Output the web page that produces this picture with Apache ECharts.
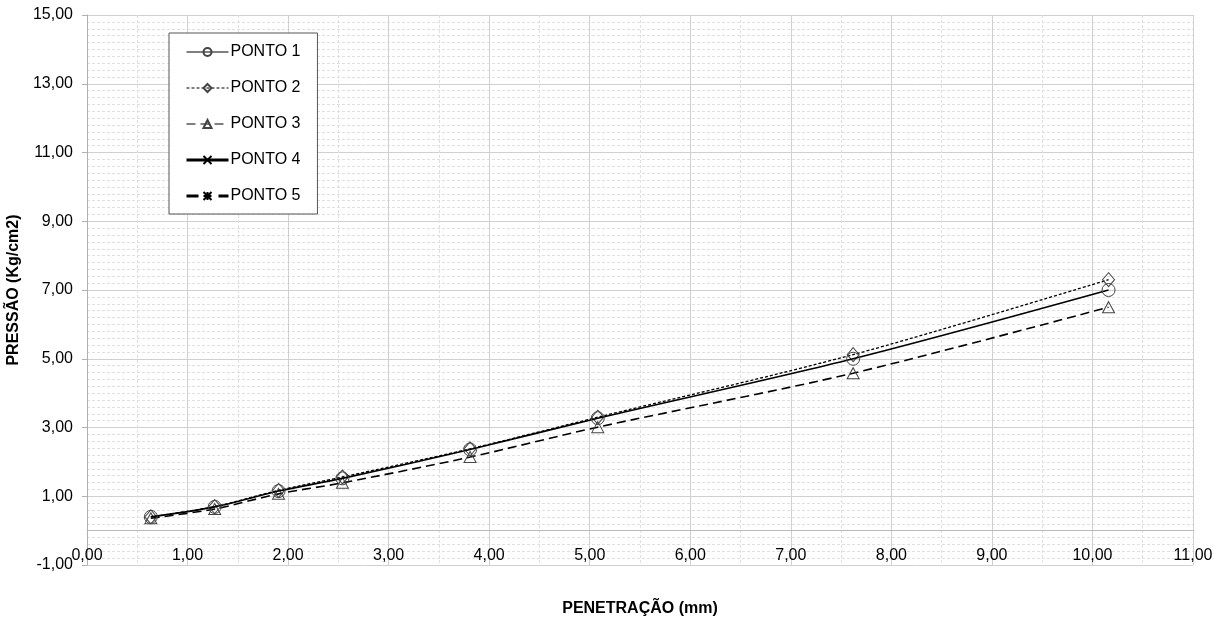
<!DOCTYPE html>
<html>
<head>
<meta charset="utf-8">
<script src="https://cdn.jsdelivr.net/npm/echarts@6/dist/echarts.min.js"></script>
<style>
  html, body { margin: 0; padding: 0; background: #fff; }
  #chart { width: 1214px; height: 620px; }
</style>
</head>
<body>
<div id="chart"></div>
<script>
// Penetration (mm)
const penetracao = [0.635, 1.27, 1.905, 2.54, 3.81, 5.08, 7.62, 10.16];
// Pressure (Kg/cm2)
const ponto1 = [0.40, 0.69, 1.15, 1.52, 2.36, 3.27, 5.00, 7.00];
const ponto2 = [0.40, 0.70, 1.17, 1.56, 2.38, 3.30, 5.12, 7.30];
const ponto3 = [0.36, 0.63, 1.07, 1.39, 2.14, 3.01, 4.58, 6.50];
const ponto4 = [];
const ponto5 = [];
const seriesNames = ['PONTO 1', 'PONTO 2', 'PONTO 3', 'PONTO 4', 'PONTO 5'];
const xTitle = 'PENETRAÇÃO (mm)';
const yTitle = 'PRESSÃO (Kg/cm2)';

function pairs(ys) { return ys.map((v, i) => [penetracao[i], v]); }
const fmt = v => v.toFixed(2).replace('.', ',');
const FONT = '"Liberation Sans", Arial, sans-serif';

const markerStyle = { color: 'rgba(255,255,255,0)', borderColor: '#444', borderWidth: 1 };
const xPath = 'path://M0,0L10,10M10,0L0,10';
const starPath = 'path://M0,0L10,10M10,0L0,10M5,0L5,10M0,5L10,5';

const chart = echarts.init(document.getElementById('chart'), null, { renderer: 'canvas' });
chart.setOption({
  animation: false,
  backgroundColor: '#fff',
  textStyle: { fontFamily: FONT },
  grid: { left: 87, right: 21, top: 15, bottom: 55, containLabel: false, outerBoundsMode: 'none' },
  legend: {
    orient: 'vertical',
    left: 169,
    top: 33,
    backgroundColor: '#fff',
    borderColor: '#555',
    borderWidth: 1,
    borderRadius: 0,
    padding: [11, 17, 10, 16],
    itemWidth: 42,
    itemHeight: 10,
    itemGap: 20,
    textStyle: { fontFamily: FONT, fontSize: 16, color: '#000', lineHeight: 10, padding: [0, 0, 0, -3] },
    data: [
      { name: seriesNames[0], lineStyle: { width: 1 } },
      { name: seriesNames[1], lineStyle: { width: 1 } },
      { name: seriesNames[2], lineStyle: { width: 1.2 } },
      { name: seriesNames[3], lineStyle: { width: 3 } },
      { name: seriesNames[4], lineStyle: { width: 3 } }
    ]
  },
  xAxis: {
    type: 'value',
    min: 0, max: 11, interval: 1,
    name: xTitle,
    nameLocation: 'middle',
    nameGap: 36,
    nameTextStyle: { fontFamily: FONT, fontSize: 16, fontWeight: 'bold', color: '#000' },
    axisLine: { show: true, onZero: true, lineStyle: { color: '#b8b8b8', width: 1 } },
    axisTick: { show: false },
    axisLabel: { formatter: fmt, fontFamily: FONT, fontSize: 16, color: '#000', inside: true, margin: 1 },
    splitLine: { show: true, lineStyle: { color: '#d0d0d0', width: 1 } },
    minorTick: { show: false, splitNumber: 2 },
    minorSplitLine: { show: true, lineStyle: { color: '#e0e0e0', width: 1, type: [3, 2] } }
  },
  yAxis: {
    type: 'value',
    min: -1, max: 15, interval: 2,
    name: yTitle,
    nameLocation: 'middle',
    nameGap: 61,
    nameRotate: 90,
    nameTextStyle: { fontFamily: FONT, fontSize: 16, fontWeight: 'bold', color: '#000' },
    axisLine: { show: true, lineStyle: { color: '#b0b0b0', width: 1 } },
    axisTick: { show: true, length: 5, lineStyle: { color: '#b0b0b0' } },
    axisLabel: { formatter: fmt, fontFamily: FONT, fontSize: 16, color: '#000', margin: 14 },
    splitLine: { show: true, lineStyle: { color: '#d0d0d0', width: 1 } },
    minorTick: { show: false, splitNumber: 10 },
    minorSplitLine: { show: true, lineStyle: { color: '#e0e0e0', width: 1, type: [3, 2] } }
  },
  series: [
    {
      name: seriesNames[0], type: 'line', smooth: 0.3,
      data: pairs(ponto1),
      symbol: 'circle', symbolSize: 13,
      lineStyle: { color: '#000', width: 1.6, type: 'solid' },
      itemStyle: markerStyle, color: '#000', z: 4
    },
    {
      name: seriesNames[1], type: 'line', smooth: 0.3,
      data: pairs(ponto2),
      symbol: 'diamond', symbolSize: [12, 14],
      lineStyle: { color: '#000', width: 1.3, type: [3, 2] },
      itemStyle: markerStyle, color: '#000', z: 3
    },
    {
      name: seriesNames[2], type: 'line', smooth: 0.3,
      data: pairs(ponto3),
      symbol: 'triangle', symbolSize: [12, 11],
      lineStyle: { color: '#000', width: 1.6, type: [9, 5] },
      itemStyle: markerStyle, color: '#000', z: 2
    },
    {
      name: seriesNames[3], type: 'line', smooth: 0.3,
      data: pairs(ponto4),
      symbol: xPath, symbolSize: 10,
      lineStyle: { color: '#000', width: 3, type: 'solid' },
      itemStyle: { color: 'rgba(0,0,0,0)', borderColor: '#000', borderWidth: 1.2 }, color: '#000'
    },
    {
      name: seriesNames[4], type: 'line', smooth: 0.3,
      data: pairs(ponto5),
      symbol: starPath, symbolSize: 10,
      lineStyle: { color: '#000', width: 3, type: [12, 8, 4, 8] },
      itemStyle: { color: 'rgba(0,0,0,0)', borderColor: '#000', borderWidth: 1.2 }, color: '#000'
    }
  ]
});
</script>
</body>
</html>
